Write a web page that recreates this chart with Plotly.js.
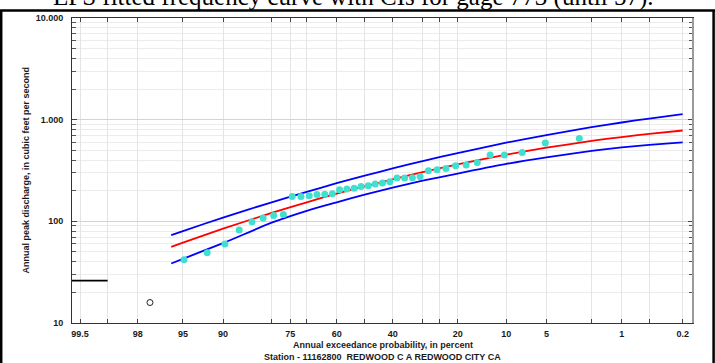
<!DOCTYPE html>
<html><head><meta charset="utf-8">
<script src="https://cdn.plot.ly/plotly-3.0.1.min.js"></script>
<style>html,body{margin:0;padding:0;background:#fff}#chart{width:715px;height:363px}</style>
</head><body><div id="chart"></div>
<script>
// ---- data ----
const titleText = 'EPS fitted frequency curve with CIs for gage 773 (until 57).';
const xTitle = 'Annual exceedance probability, in percent';
const stationText = 'Station - 11162800\u00a0\u00a0REDWOOD C A REDWOOD CITY CA';
const yTitle = 'Annual peak discharge, in cubic feet per second';

// observed annual peaks (exceedance %, discharge cfs)
const exceedPct = [2.6, 5.1, 7.7, 10.3, 12.8, 15.4, 17.9, 20.5, 23.1, 25.6, 28.2, 30.8, 33.3, 35.9, 38.5, 41.0, 43.6, 46.2, 48.7, 51.3, 53.8, 56.4, 59.0, 61.5, 64.1, 66.7, 69.2, 71.8, 74.4, 76.9, 79.5, 82.1, 84.6, 87.2, 89.7, 92.3, 94.9];
const peakFlow  = [653, 588, 476, 448, 448, 379, 358, 352, 331, 322, 314, 276, 268, 267, 267, 245, 238, 233, 224, 220, 211, 208, 205, 187, 185, 184, 179, 175, 175, 117, 114, 108, 99, 82, 60, 49, 42];

// low outlier
const lowOutlierPct = [97.4];
const lowOutlierFlow = [15.9];

// low-outlier threshold line
const thresholdPct = [99.6, 99.0];
const thresholdFlow = [26.1, 26.1];

// fitted frequency curve and confidence limits
const curvePct   = [96, 95, 90, 80, 70, 60, 50, 40, 30, 20, 10, 5, 2, 1, 0.5, 0.2];
const fittedFlow = [56.1, 61.7, 84.7, 121, 154, 187, 221, 259, 305, 363, 453, 530, 618, 675, 726, 782];
const upperFlow  = [73.1, 80.2, 109, 154, 195, 237, 281, 331, 391, 469, 594, 705, 843, 938, 1026, 1131];
const lowerFlow  = [38.5, 42.8, 61.0, 97.0, 127, 154, 183, 214, 251, 295, 367, 426, 493, 533, 565, 597];

// axis ticks
const probTicks  = [99.5, 99, 98, 95, 90, 80, 75, 70, 60, 50, 40, 30, 25, 20, 10, 5, 2, 1, 0.5, 0.2];
const probLabels = ['99.5', '', '98', '95', '90', '', '75', '', '60', '', '40', '', '', '20', '10', '5', '', '1', '', '0.2'];
const flowTicks  = [10, 100, 1000, 10000];
const flowLabels = ['10', '100', '1.000', '10.000'];
const flowMinor  = [20, 30, 40, 50, 60, 70, 80, 90, 200, 300, 400, 500, 600, 700, 800, 900, 2000, 3000, 4000, 5000, 6000, 7000, 8000, 9000];

// ---- normal probability scale ----
function probit(p) {
  const a = [-3.969683028665376e+01, 2.209460984245205e+02, -2.759285104469687e+02, 1.383577518672690e+02, -3.066479806614716e+01, 2.506628277459239e+00];
  const b = [-5.447609879822406e+01, 1.615858368580409e+02, -1.556989798598866e+02, 6.680131188771972e+01, -1.328068155288572e+01];
  const c = [-7.784894002430293e-03, -3.223964580411365e-01, -2.400758277161838e+00, -2.549671348283604e+00, 4.374664141464968e+00, 2.938163982698783e+00];
  const d = [7.784695709041462e-03, 3.224671290700398e-01, 2.445134137142996e+00, 3.754408661907416e+00];
  const plow = 0.02425, phigh = 1 - plow;
  let q, r;
  if (p < plow) {
    q = Math.sqrt(-2 * Math.log(p));
    return (((((c[0]*q+c[1])*q+c[2])*q+c[3])*q+c[4])*q+c[5]) / ((((d[0]*q+d[1])*q+d[2])*q+d[3])*q+1);
  } else if (p <= phigh) {
    q = p - 0.5; r = q * q;
    return (((((a[0]*r+a[1])*r+a[2])*r+a[3])*r+a[4])*r+a[5])*q / (((((b[0]*r+b[1])*r+b[2])*r+b[3])*r+b[4])*r+1);
  } else {
    q = Math.sqrt(-2 * Math.log(1 - p));
    return -(((((c[0]*q+c[1])*q+c[2])*q+c[3])*q+c[4])*q+c[5]) / ((((d[0]*q+d[1])*q+d[2])*q+d[3])*q+1);
  }
}
function toZ(pct) { return probit(1 - pct / 100); }

const boldFont = {family: 'Liberation Sans, Arial, sans-serif', size: 9, color: '#1a1a1a', weight: 'bold'};

const traces = [
  {x: curvePct.map(toZ), y: lowerFlow, mode: 'lines', line: {color: '#0000ff', width: 1.8, shape: 'spline', smoothing: 0.6}, hoverinfo: 'skip'},
  {x: curvePct.map(toZ), y: upperFlow, mode: 'lines', line: {color: '#0000ff', width: 1.8, shape: 'spline', smoothing: 0.6}, hoverinfo: 'skip'},
  {x: curvePct.map(toZ), y: fittedFlow, mode: 'lines', line: {color: '#ff0000', width: 1.8, shape: 'spline', smoothing: 0.6}, hoverinfo: 'skip'},
  {x: exceedPct.map(toZ), y: peakFlow, mode: 'markers', marker: {color: '#40e0d0', size: 7, line: {width: 0}}},
  {x: lowOutlierPct.map(toZ), y: lowOutlierFlow, mode: 'markers', marker: {color: '#ffffff', size: 6, symbol: 'circle', line: {color: '#222', width: 1}}},
  {x: thresholdPct.map(toZ), y: thresholdFlow, mode: 'lines', line: {color: '#000000', width: 1.6}}
];

const L = 72, R = 22, T = 18, B = 40, W = 715, H = 363;
const pw = W - L - R, ph = H - T - B;
const px = v => (v - L) / pw;
const py = v => (H - B - v) / ph;

const layout = {
  width: W, height: H,
  margin: {l: L, r: R, t: T, b: B, pad: 0},
  paper_bgcolor: '#ffffff', plot_bgcolor: '#ffffff',
  showlegend: false,
  font: {family: 'Liberation Sans, Arial, sans-serif', size: 9, color: '#1a1a1a'},
  xaxis: {
    range: [-2.649, 2.972], tickmode: 'array',
    tickvals: probTicks.map(toZ), ticktext: probLabels,
    ticks: 'inside', ticklen: 4, tickwidth: 1, tickcolor: '#444',
    showgrid: true, gridcolor: '#e4e4e4', gridwidth: 1,
    zeroline: false, showline: true, linecolor: '#333', linewidth: 1, mirror: 'ticks',
    tickfont: boldFont, ticklabelstandoff: 2
  },
  yaxis: {
    type: 'log', range: [1, 4], tickmode: 'array',
    tickvals: flowTicks, ticktext: flowLabels,
    ticks: 'inside', ticklen: 5, tickwidth: 1, tickcolor: '#444',
    showgrid: true, gridcolor: '#d4d4d4', gridwidth: 1,
    zeroline: false, showline: true, linecolor: '#333', linewidth: 1, mirror: 'ticks',
    tickfont: boldFont, ticklabelstandoff: 6,
    minor: {tickmode: 'array', tickvals: flowMinor, ticks: 'inside', ticklen: 4, tickcolor: '#555', showgrid: true, gridcolor: '#ececec', gridwidth: 1}
  },
  annotations: [
    {xref: 'paper', yref: 'paper', x: 0.5, y: 1, xanchor: 'center', yanchor: 'middle', xshift: 353.5 - (L + pw / 2), yshift: 21,
     text: titleText, showarrow: false, font: {family: 'Liberation Serif, Times New Roman, serif', size: 25, color: '#000'}},
    {xref: 'paper', yref: 'paper', x: 0.5, y: 0, xanchor: 'center', yanchor: 'middle', yshift: -22,
     text: xTitle, showarrow: false, font: boldFont},
    {xref: 'paper', yref: 'paper', x: 0.5, y: 0, xanchor: 'center', yanchor: 'middle', yshift: -34,
     text: stationText, showarrow: false, font: boldFont},
    {xref: 'paper', yref: 'paper', x: 0, y: 0.5, xanchor: 'center', yanchor: 'middle', xshift: 25 - L, textangle: -90,
     text: yTitle, showarrow: false, font: boldFont}
  ],
  shapes: [
    {type: 'line', xref: 'paper', yref: 'paper', x0: px(0), x1: px(W), y0: py(10.5), y1: py(10.5), line: {color: '#000', width: 2.5}},
    {type: 'line', xref: 'paper', yref: 'paper', x0: px(1.2), x1: px(1.2), y0: py(10.5), y1: py(H), line: {color: '#000', width: 2.5}},
    {type: 'line', xref: 'paper', yref: 'paper', x0: px(713.6), x1: px(713.6), y0: py(10.5), y1: py(H), line: {color: '#000', width: 2.5}},
    {type: 'line', xref: 'paper', yref: 'paper', x0: 1, x1: 1, y0: 0, y1: 1, line: {color: '#9a9a9a', width: 2}}
  ]
};

Plotly.newPlot('chart', traces, layout, {staticPlot: true, displayModeBar: false});
</script>
</body></html>
